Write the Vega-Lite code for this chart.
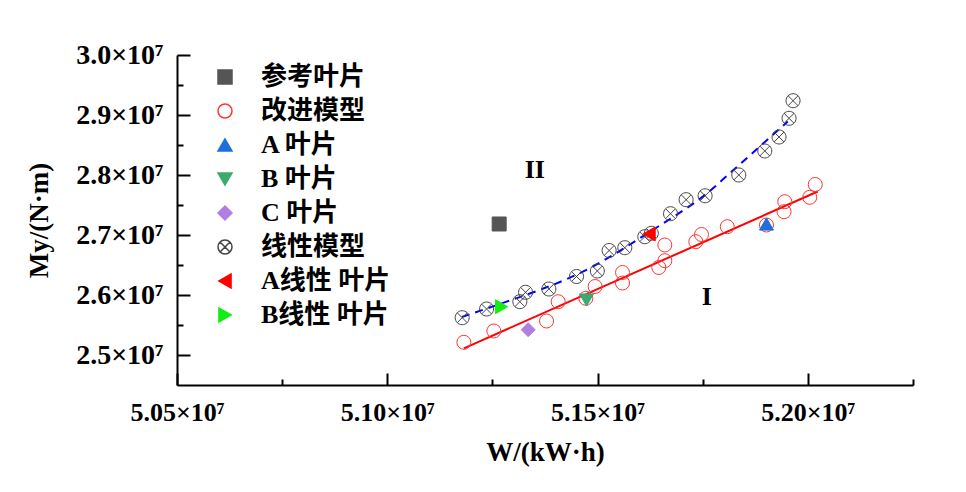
{
  "$schema": "https://vega.github.io/schema/vega-lite/v6.json",
  "width": 736,
  "height": 330,
  "autosize": {"type": "none"},
  "padding": {"left": 177, "top": 55, "right": 53, "bottom": 107},
  "background": "white",
  "config": {
    "view": {"stroke": null},
    "axis": {
      "domainColor": "black", "domainWidth": 2, "tickColor": "black", "tickWidth": 2,
      "labelFont": "Liberation Serif", "labelFontSize": 26, "labelFontWeight": "bold", "labelColor": "black",
      "titleFont": "Liberation Serif", "titleFontSize": 27, "titleFontWeight": "bold", "titleColor": "black",
      "grid": false, "labelFlush": false, "labelOverlap": false
    },
    "legend": {
      "labelFont": "Liberation Serif, Noto Sans CJK SC", "labelFontSize": 26, "labelFontWeight": "bold", "labelColor": "black",
      "rowPadding": 8, "padding": 0, "labelOffset": 23, "symbolOpacity": 1
    }
  },
  "datasets": {
    "pts": [
      {"W": 51182100, "M": 25211700, "series": "改进模型"},
      {"W": 51253400, "M": 25400000, "series": "改进模型"},
      {"W": 51378700, "M": 25566700, "series": "改进模型"},
      {"W": 51406300, "M": 25888400, "series": "改进模型"},
      {"W": 51472100, "M": 25945000, "series": "改进模型"},
      {"W": 51494200, "M": 26141700, "series": "改进模型"},
      {"W": 51559300, "M": 26375000, "series": "改进模型"},
      {"W": 51559300, "M": 26200000, "series": "改进模型"},
      {"W": 51645600, "M": 26458400, "series": "改进模型"},
      {"W": 51659900, "M": 26571700, "series": "改进模型"},
      {"W": 51659900, "M": 26833400, "series": "改进模型"},
      {"W": 51733600, "M": 26888400, "series": "改进模型"},
      {"W": 51747100, "M": 27008400, "series": "改进模型"},
      {"W": 51808400, "M": 27138400, "series": "改进模型"},
      {"W": 51901600, "M": 27166700, "series": "改进模型"},
      {"W": 51943400, "M": 27388400, "series": "改进模型"},
      {"W": 51945100, "M": 27555100, "series": "改进模型"},
      {"W": 52004500, "M": 27628400, "series": "改进模型"},
      {"W": 52017600, "M": 27841700, "series": "改进模型"},
      {"W": 51178100, "M": 25621700, "series": "线性模型"},
      {"W": 51236100, "M": 25766700, "series": "线性模型"},
      {"W": 51315200, "M": 25888400, "series": "线性模型"},
      {"W": 51328800, "M": 26045000, "series": "线性模型"},
      {"W": 51384200, "M": 26100000, "series": "线性模型"},
      {"W": 51450000, "M": 26308400, "series": "线性模型"},
      {"W": 51499400, "M": 26400000, "series": "线性模型"},
      {"W": 51527500, "M": 26741700, "series": "线性模型"},
      {"W": 51564800, "M": 26788400, "series": "线性模型"},
      {"W": 51612300, "M": 26971700, "series": "线性模型"},
      {"W": 51627800, "M": 27028400, "series": "线性模型"},
      {"W": 51673400, "M": 27355100, "series": "线性模型"},
      {"W": 51710500, "M": 27588400, "series": "线性模型"},
      {"W": 51755700, "M": 27653400, "series": "线性模型"},
      {"W": 51835800, "M": 28000100, "series": "线性模型"},
      {"W": 51897600, "M": 28400100, "series": "线性模型"},
      {"W": 51931500, "M": 28633400, "series": "线性模型"},
      {"W": 51955300, "M": 28945100, "series": "线性模型"},
      {"W": 51964800, "M": 29238400, "series": "线性模型"},
      {"W": 51266000, "M": 27183400, "series": "参考叶片"},
      {"W": 51901600, "M": 27183000, "series": "A 叶片"},
      {"W": 51473800, "M": 25916700, "series": "B 叶片"},
      {"W": 51335000, "M": 25421700, "series": "C 叶片"},
      {"W": 51622600, "M": 27016700, "series": "A线性 叶片"},
      {"W": 51271700, "M": 25805000, "series": "B线性 叶片"}
    ],
    "fitI": [
      {"W": 51182100, "M": 25111700},
      {"W": 52023500, "M": 27725100}
    ],
    "fitII": [
      {"W": 51177400, "M": 25633400},
      {"W": 51267700, "M": 25850000},
      {"W": 51339000, "M": 26025000},
      {"W": 51388900, "M": 26155000},
      {"W": 51465000, "M": 26388400},
      {"W": 51541000, "M": 26683400},
      {"W": 51619500, "M": 27033400},
      {"W": 51683600, "M": 27316700},
      {"W": 51755000, "M": 27666700},
      {"W": 51814400, "M": 28028400},
      {"W": 51880900, "M": 28445100},
      {"W": 51952200, "M": 28891800}
    ],
    "ann": [
      {"W": 51350900, "M": 28083400, "label": "II"},
      {"W": 51759700, "M": 25966700, "label": "I"}
    ]
  },
  "layer": [
    {
      "data": {"name": "fitI"},
      "mark": {"type": "line", "color": "#FF0000", "strokeWidth": 2},
      "encoding": {
        "x": {"field": "W", "type": "quantitative", "scale": {"domain": [50500000, 52250000], "nice": false, "zero": false},
          "axis": {"orient": "bottom", "values": [50500000, 51000000, 51500000, 52000000], "labelExpr": "format(datum.value/1e7,'.2f')+'×10⁷'", "tickSize": -12, "labelPadding": 26, "labelDx": -9, "title": "W/(kW·h)", "titlePadding": 14}},
        "y": {"field": "M", "type": "quantitative", "scale": {"domain": [24500000, 30000000], "nice": false, "zero": false},
          "axis": {"orient": "left", "values": [25000000, 26000000, 27000000, 28000000, 29000000, 30000000], "labelExpr": "format(datum.value/1e7,'.1f')+'×10⁷'", "labelFontSize": 28, "tickSize": -13, "labelPadding": 27, "title": "My/(N·m)", "titlePadding": 22}}
      }
    },
    {
      "data": {"name": "fitII"},
      "mark": {"type": "line", "color": "#0000FF", "strokeWidth": 2, "strokeDash": [8, 6], "interpolate": "monotone"},
      "encoding": {
        "x": {"field": "W", "type": "quantitative",
          "axis": {"orient": "bottom", "values": [50750000, 51250000, 51750000, 52250000], "tickSize": -6, "labels": false, "domain": false, "title": null}},
        "y": {"field": "M", "type": "quantitative",
          "axis": {"orient": "left", "values": [25500000, 26500000, 27500000, 28500000, 29500000], "tickSize": -6, "labels": false, "domain": false, "title": null}}
      }
    },
    {
      "data": {"name": "pts"},
      "mark": {"type": "point", "opacity": 1, "strokeWidth": 1},
      "encoding": {
        "x": {"field": "W", "type": "quantitative", "axis": null},
        "y": {"field": "M", "type": "quantitative", "axis": null},
        "shape": {"field": "series", "type": "nominal",
          "scale": {"domain": ["参考叶片", "改进模型", "A 叶片", "B 叶片", "C 叶片", "线性模型", "A线性 叶片", "B线性 叶片"],
            "range": ["square", "circle", "triangle-up", "triangle-down", "diamond", "M-1,0A1,1,0,1,0,1,0A1,1,0,1,0,-1,0ZM-0.707,-0.707L0.707,0.707M-0.707,0.707L0.707,-0.707", "triangle-left", "triangle-right"]},
          "legend": {"orient": "none", "legendX": 35, "legendY": 9, "title": null}},
        "fill": {"field": "series", "type": "nominal",
          "scale": {"domain": ["参考叶片", "改进模型", "A 叶片", "B 叶片", "C 叶片", "线性模型", "A线性 叶片", "B线性 叶片"],
            "range": ["#555555", "transparent", "#1E6FDC", "#3CAA6E", "#B07FE0", "transparent", "#FF0000", "#11EE11"]},
          "legend": {"orient": "none", "legendX": 35, "legendY": 9, "title": null}},
        "stroke": {"field": "series", "type": "nominal",
          "scale": {"domain": ["参考叶片", "改进模型", "A 叶片", "B 叶片", "C 叶片", "线性模型", "A线性 叶片", "B线性 叶片"],
            "range": ["#555555", "#FF3333", "#1E6FDC", "#3CAA6E", "#B07FE0", "#444444", "#FF0000", "#11EE11"]},
          "legend": {"orient": "none", "legendX": 35, "legendY": 9, "title": null}},
        "size": {"field": "series", "type": "nominal",
          "scale": {"domain": ["参考叶片", "改进模型", "A 叶片", "B 叶片", "C 叶片", "线性模型", "A线性 叶片", "B线性 叶片"],
            "range": [196, 196, 256, 256, 289, 196, 256, 256]},
          "legend": {"orient": "none", "legendX": 35, "legendY": 9, "title": null}}
      }
    },
    {
      "data": {"name": "ann"},
      "mark": {"type": "text", "font": "Liberation Serif", "fontSize": 26, "fontWeight": "bold", "color": "black"},
      "encoding": {
        "x": {"field": "W", "type": "quantitative", "axis": null},
        "y": {"field": "M", "type": "quantitative", "axis": null},
        "text": {"field": "label"}
      }
    }
  ],
  "resolve": {"axis": {"x": "independent", "y": "independent"}}
}
